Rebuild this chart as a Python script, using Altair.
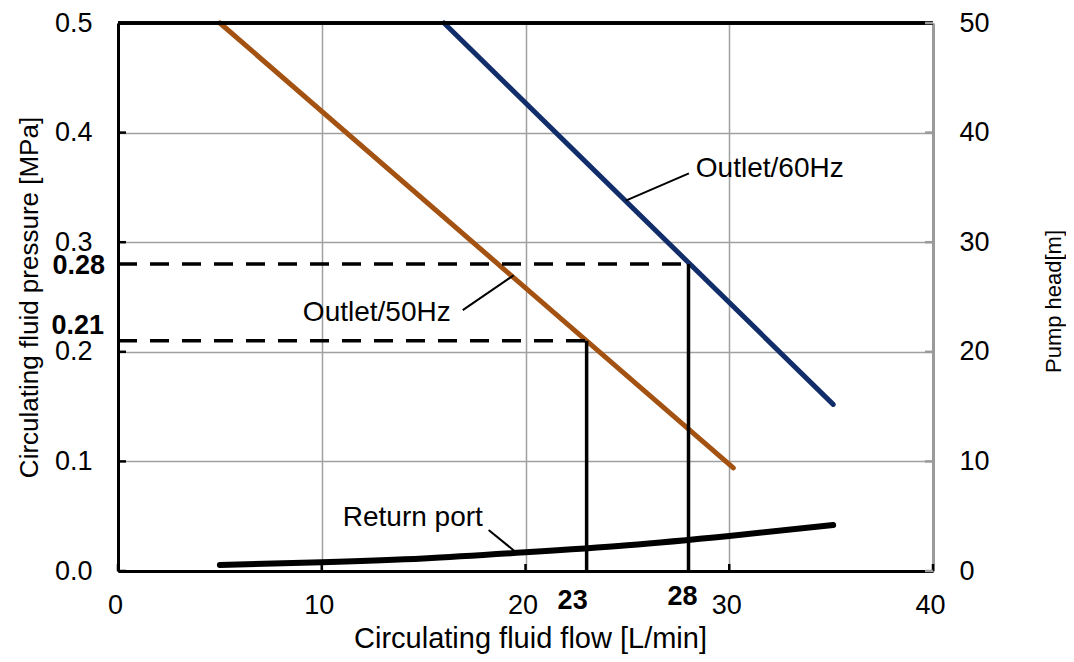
import altair as alt
import pandas as pd

# ---------------- data ----------------
flow_50hz = [5.0, 30.2]
pres_50hz = [0.5, 0.094]
flow_60hz = [16.0, 35.1]
pres_60hz = [0.5, 0.152]
flow_ret = [5.0, 10.0, 15.0, 20.0, 25.0, 30.0, 35.1]
pres_ret = [0.0055, 0.008, 0.0115, 0.017, 0.0235, 0.032, 0.042]

op_flow = [23, 28]
op_pres = [0.21, 0.28]

x_ticks = [0, 10, 20, 30, 40]
y_ticks = [0.0, 0.1, 0.2, 0.3, 0.4, 0.5]
head_ticks = [0, 10, 20, 30, 40, 50]

label_text = ["Outlet/60Hz", "Outlet/50Hz", "Return port"]
label_flow = [28.36, 16.33, 11.03]
label_pres = [0.367, 0.235, 0.048]
leader_flow = [24.92, 16.92, 18.19]
leader_pres = [0.338, 0.238, 0.0374]
leader_flow2 = [28.02, 19.42, 19.52]
leader_pres2 = [0.3628, 0.2698, 0.0173]

FONT = "Liberation Sans"
BROWN = "#A35212"
NAVY = "#112E6B"
GRID = "#a0a0a0"

W, H = 815, 548

xs = alt.Scale(domain=[0, 40], nice=False, zero=False)
ys = alt.Scale(domain=[0, 0.5], nice=False)
hs = alt.Scale(domain=[0, 50], nice=False)

df50 = pd.DataFrame({"flow": flow_50hz, "pres": pres_50hz})
df60 = pd.DataFrame({"flow": flow_60hz, "pres": pres_60hz})
dfret = pd.DataFrame({"flow": flow_ret, "pres": pres_ret})
dfop = pd.DataFrame({"flow": op_flow, "pres": op_pres, "zero": [0, 0]})
dflab = pd.DataFrame({"flow": label_flow, "pres": label_pres, "text": label_text})
dflead = pd.DataFrame({"flow": leader_flow, "pres": leader_pres,
                       "flow2": leader_flow2, "pres2": leader_pres2})
dfx = pd.DataFrame({"flow": x_ticks})
dfy = pd.DataFrame({"pres": y_ticks})
dfh = pd.DataFrame({"head": head_ticks})

x_axis = alt.Axis(
    values=x_ticks, format="d", title="Circulating fluid flow [L/min]",
    labelFont=FONT, labelFontSize=27, labelColor="black", labelPadding=21,
    labelOffset=-3, labelFlush=False, labelOverlap=False,
    ticks=False, tickSize=0, domainColor="black", domainWidth=3,
    grid=True, gridColor=GRID, gridWidth=1.5,
    titleFont=FONT, titleFontSize=29, titleFontWeight="normal", titleColor="black",
    titleX=412, titleY=76, titleBaseline="alphabetic", titleAlign="center",
)
y_axis = alt.Axis(
    values=y_ticks, format=".1f", title="Circulating fluid pressure [MPa]",
    labelFont=FONT, labelFontSize=27, labelColor="black", labelPadding=26,
    labelFlush=False, labelOverlap=False,
    ticks=False, tickSize=0, domainColor="black", domainWidth=3,
    grid=True, gridColor=GRID, gridWidth=1.5,
    titleFont=FONT, titleFontSize=26, titleFontWeight="normal", titleColor="black",
    titleX=-81, titleY=274, titleAngle=270, titleBaseline="alphabetic", titleAlign="center",
)
h_axis = alt.Axis(
    orient="right", values=head_ticks, format="d", title="Pump head[m]",
    labelFont=FONT, labelFontSize=27, labelColor="black", labelPadding=26,
    labelFlush=False, labelOverlap=False,
    ticks=False, tickSize=0, domainColor="#9a9a9a", domainWidth=3, grid=False,
    titleFont=FONT, titleFontSize=22, titleFontWeight="normal", titleColor="black",
    titleX=127, titleY=278, titleAngle=270, titleBaseline="alphabetic", titleAlign="center",
)


def X(f="flow"):
    return alt.X(f"{f}:Q", scale=xs, axis=x_axis)


def Y(f="pres"):
    return alt.Y(f"{f}:Q", scale=ys, axis=y_axis)


line50 = alt.Chart(df50).mark_line(color=BROWN, strokeWidth=5, strokeCap="round").encode(x=X(), y=Y())
line60 = alt.Chart(df60).mark_line(color=NAVY, strokeWidth=5, strokeCap="round").encode(x=X(), y=Y())
lineret = alt.Chart(dfret).mark_line(color="black", strokeWidth=6, strokeCap="round",
                                     interpolate="monotone").encode(x=X(), y=Y())

dash_h = alt.Chart(dfop).mark_rule(color="black", strokeWidth=3.5, strokeDash=[19, 13]).encode(
    x=X("zero"), x2="flow:Q", y=Y()
)
vert = alt.Chart(dfop).mark_rule(color="black", strokeWidth=3.5).encode(
    x=X(), y=Y("zero"), y2="pres:Q"
)

top_border = alt.Chart(dfx).mark_rule(color="black", strokeWidth=3).encode(
    y=alt.value(0), x=alt.value(0), x2=alt.value(W)
)
left_ticks = alt.Chart(dfy).mark_rule(color="black", strokeWidth=2.5).encode(
    y=Y(), x=alt.value(0), x2=alt.value(8)
)
bottom_ticks = alt.Chart(dfx).mark_rule(color="black", strokeWidth=2.5).encode(
    x=X(), y=alt.value(H), y2=alt.value(H - 7)
)

leaders = alt.Chart(dflead).mark_rule(color="black", strokeWidth=2).encode(
    x=X(), y=Y(), x2="flow2:Q", y2="pres2:Q"
)
lab_left = alt.Chart(dflab[dflab["text"] != "Outlet/50Hz"]).mark_text(
    font=FONT, fontSize=28, align="left", baseline="middle", color="black"
).encode(x=X(), y=Y(), text="text:N")
lab_right = alt.Chart(dflab[dflab["text"] == "Outlet/50Hz"]).mark_text(
    font=FONT, fontSize=28, align="right", baseline="middle", color="black"
).encode(x=X(), y=Y(), text="text:N")


def bold_label(flow, pres, txt, dx, dy, align):
    d = pd.DataFrame({"flow": [flow], "pres": [pres], "text": [txt]})
    return alt.Chart(d).mark_text(
        font=FONT, fontSize=27, fontWeight="bold", align=align, baseline="middle",
        color="black", dx=dx, dy=dy
    ).encode(x=X(), y=Y(), text="text:N")


b028 = bold_label(0, op_pres[1], "0.28", -13, 2, "right")
b021 = bold_label(0, op_pres[0], "0.21", -14, -15, "right")
b23 = bold_label(op_flow[0], 0, "23", -14, 30, "center")
b28 = bold_label(op_flow[1], 0, "28", -6, 26, "center")

inner = alt.layer(
    line50, line60, lineret, dash_h, vert, top_border, left_ticks, bottom_ticks,
    leaders, lab_left, lab_right, b028, b021, b23, b28
)

right_ticks = alt.Chart(dfh).mark_rule(color="#9a9a9a", strokeWidth=2.5).encode(
    y=alt.Y("head:Q", scale=hs, axis=h_axis), x=alt.value(W), x2=alt.value(W - 8)
)

chart = alt.layer(inner, right_ticks).resolve_scale(y="independent").properties(
    width=W, height=H,
    padding={"left": 110, "top": 15, "right": 133, "bottom": 83},
    autosize=alt.AutoSizeParams(type="none"),
    background="white",
).configure_view(stroke=None)

chart.save("out.html", embed_options={"renderer": "svg", "actions": False})
